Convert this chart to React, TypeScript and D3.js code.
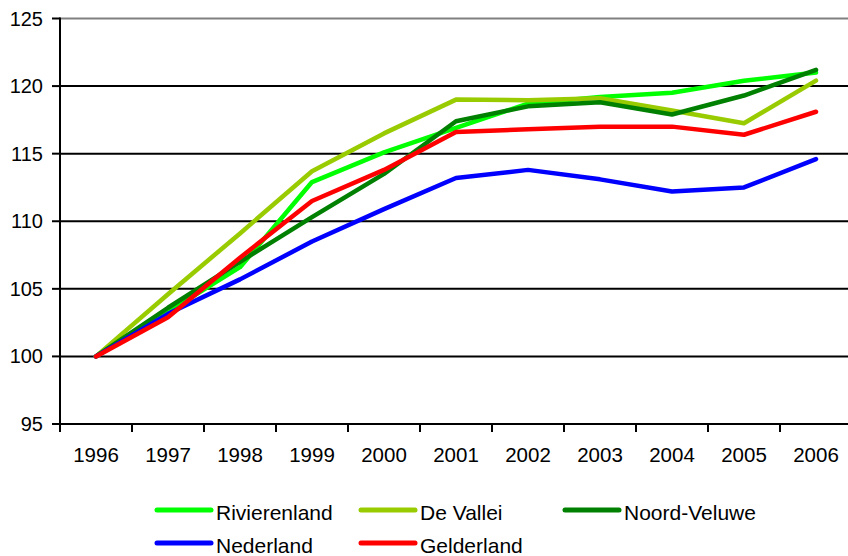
import React from 'react';
import * as d3 from 'd3';

const years = ['1996', '1997', '1998', '1999', '2000', '2001', '2002', '2003', '2004', '2005', '2006'];
const yTicks = [95, 100, 105, 110, 115, 120, 125];

const rivierenland = [100, 103.3, 106.6, 112.9, 115.1, 116.9, 118.7, 119.2, 119.5, 120.4, 121.0];
const deVallei = [100, 104.6, 109.1, 113.7, 116.5, 119.0, 118.95, 119.1, 118.2, 117.25, 120.4];
const noordVeluwe = [100, 103.6, 107.0, 110.3, 113.5, 117.4, 118.5, 118.8, 117.9, 119.3, 121.2];
const nederland = [100, 103.15, 105.7, 108.5, 110.9, 113.2, 113.8, 113.1, 112.2, 112.5, 114.6];
const gelderland = [100, 102.9, 107.3, 111.5, 113.8, 116.6, 116.8, 117.0, 117.0, 116.4, 118.1];

const series = [
  { name: 'Rivierenland', values: rivierenland, color: '#00ff00' },
  { name: 'De Vallei', values: deVallei, color: '#99cc00' },
  { name: 'Noord-Veluwe', values: noordVeluwe, color: '#008000' },
  { name: 'Nederland', values: nederland, color: '#0000ff' },
  { name: 'Gelderland', values: gelderland, color: '#ff0000' },
];

const width = 848;
const height = 556;
const margin = { top: 18.5, left: 60, bottom: 424 };
const font = 'Liberation Sans, Arial, sans-serif';

export default function App() {
  const x = d3.scaleBand<string>().domain(years).range([margin.left, margin.left + 72 * years.length]).padding(0);
  const y = d3.scaleLinear().domain([95, 125]).range([margin.bottom, margin.top]);
  const cx = (yr: string) => (x(yr) || 0) + x.bandwidth() / 2;

  const line = d3.line<number>()
    .x((_, i) => cx(years[i]))
    .y(d => y(d));

  // legend slots: row, column
  const legendCols = [157, 361, 565];
  const legendRows = [510, 543];

  return (
    <svg width={width} height={height} style={{ position: 'fixed', left: 0, top: 0, background: '#fff' }}
      fontFamily={font}>
      <rect width={width} height={height} fill="#fff" />
      {/* grid */}
      {yTicks.slice(1).map(t => (
        <line key={t} x1={margin.left} x2={width} y1={y(t)} y2={y(t)}
          stroke={t === 125 ? '#808080' : '#000'} strokeWidth={2} />
      ))}
      {/* y axis */}
      <line x1={margin.left} x2={margin.left} y1={y(125) - 1} y2={y(95) + 1} stroke="#000" strokeWidth={2} />
      {yTicks.map(t => (
        <g key={t}>
          <line x1={margin.left - 8} x2={margin.left} y1={y(t)} y2={y(t)} stroke="#000" strokeWidth={2} />
          <text x={margin.left - 17} y={y(t)} dy="0.35em" textAnchor="end" fontSize={20} fill="#000">{t}</text>
        </g>
      ))}
      {/* x axis */}
      <line x1={margin.left} x2={width} y1={y(95)} y2={y(95)} stroke="#000" strokeWidth={2} />
      {years.map(yr => (
        <g key={yr}>
          <line x1={x(yr) || 0} x2={x(yr) || 0} y1={y(95)} y2={y(95) + 8} stroke="#000" strokeWidth={2} />
          <text x={cx(yr)} y={462} textAnchor="middle" fontSize={20.5} fill="#000">{yr}</text>
        </g>
      ))}
      {/* series */}
      {series.map(s => (
        <path key={s.name} d={line(s.values) || ''} fill="none" stroke={s.color}
          strokeWidth={4.5} strokeLinejoin="round" strokeLinecap="round" />
      ))}
      {/* legend */}
      {series.map((s, i) => {
        const lx = legendCols[i % 3];
        const ly = legendRows[Math.floor(i / 3)];
        return (
          <g key={s.name}>
            <line x1={lx} x2={lx + 54} y1={ly} y2={ly} stroke={s.color} strokeWidth={5} strokeLinecap="round" />
            <text x={lx + 59} y={ly + 10} fontSize={21} fill="#000">{s.name}</text>
          </g>
        );
      })}
    </svg>
  );
}
